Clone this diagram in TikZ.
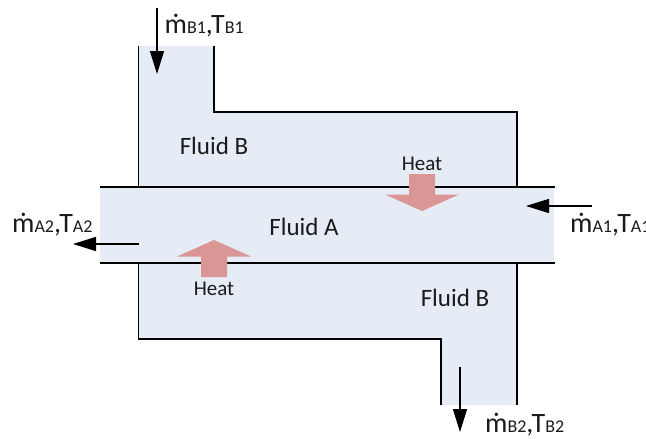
\documentclass[tikz,border=0pt]{standalone}
\usepackage{fontspec}
\setmainfont{Carlito}
\usetikzlibrary{arrows.meta}
\definecolor{fluidfill}{HTML}{E6ECF6}
\definecolor{heatfill}{HTML}{D99694}
\definecolor{ink}{HTML}{1A1A1A}
\newcommand{\flowlabel}[2]{{\fontsize{28}{28}\selectfont ṁ}{\fontsize{18}{18}\selectfont #1}{\fontsize{28}{28}\selectfont ,T}{\fontsize{18}{18}\selectfont #2}}
\tikzset{
  wall/.style={draw=black,line width=1.4pt},
  flow/.style={draw=black,line width=1.3pt,-{Triangle[length=23pt,width=14pt]}},
  heatarrow/.style={fill=heatfill,draw=none},
  fluidtext/.style={inner sep=0pt,anchor=base,text=ink,font=\fontsize{25}{25}\selectfont},
  heattext/.style={inner sep=0pt,anchor=base,text=ink,font=\fontsize{21}{22}\selectfont},
  flowtext/.style={inner sep=0pt,anchor=base west,text=ink}
}
\begin{document}
\begin{tikzpicture}[x=1pt,y=-1pt]
\useasboundingbox (0,0) rectangle (646,439);
\begin{scope}
\clip (0,0) rectangle (646,439);
% fluid regions
\fill[fluidfill] (138,46) -- (214,46) -- (214,112) -- (517,112) -- (517,187) -- (138,187) -- cycle;
\fill[fluidfill] (100,187) rectangle (554,263);
\fill[fluidfill] (138,263) -- (517,263) -- (517,405) -- (441,405) -- (441,339) -- (138,339) -- cycle;
% walls
\draw[wall] (138.5,46) -- (138.5,187);
\draw[wall] (214,46) -- (214,112) -- (517,112) -- (517,187);
\draw[wall] (138.5,263) -- (138.5,339) -- (441,339) -- (441,405);
\draw[wall] (517,263) -- (517,405);
\draw[wall] (100,187) -- (555,187);
\draw[wall] (100,263) -- (555,263);
% heat arrows
\fill[heatarrow] (409,174) -- (435,174) -- (435,194.5) -- (459,194.5) -- (422,211) -- (385,194.5) -- (409,194.5) -- cycle;
\fill[heatarrow] (201,277) -- (227,277) -- (227,256.5) -- (251,256.5) -- (214,240) -- (177,256.5) -- (201,256.5) -- cycle;
% labels
\node[fluidtext] (fluidBa) at (214,154) {Fluid B};
\node[fluidtext] (fluidA) at (304,235) {Fluid A};
\node[fluidtext] (fluidBb) at (455,306) {Fluid B};
\node[heattext] (heatA) at (422,170) {Heat};
\node[heattext] (heatB) at (214,295) {Heat};
\node[flowtext] (labB1) at (164.5,33.5) {\flowlabel{B1}{B1}};
\node[flowtext] (labA2) at (12,232.5) {\flowlabel{A2}{A2}};
\node[flowtext] (labA1) at (570,232.5) {\flowlabel{A1}{A1}};
\node[flowtext] (labB2) at (485,432.5) {\flowlabel{B2}{B2}};
% flow arrows
\coordinate (b1s) at (157,8);
\coordinate (b1e) at (157,74);
\coordinate (a2s) at (139,244);
\coordinate (a2e) at (73,244);
\coordinate (a1s) at (592,206);
\coordinate (a1e) at (526,206);
\coordinate (b2s) at (460,367);
\coordinate (b2e) at (460,432);
\draw[flow] (b1s) -- (b1e);
\draw[flow] (a2s) -- (a2e);
\draw[flow] (a1s) -- (a1e);
\draw[flow] (b2s) -- (b2e);
\end{scope}
\end{tikzpicture}
\end{document}
